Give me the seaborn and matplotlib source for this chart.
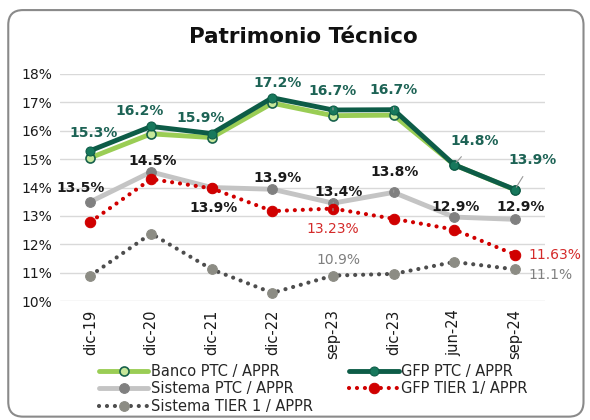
import numpy as np
import pandas as pd
import matplotlib
matplotlib.use("Agg")
import matplotlib.pyplot as plt
from matplotlib.patches import FancyBboxPatch
import seaborn as sns

periodos = ["dic-19", "dic-20", "dic-21", "dic-22", "sep-23", "dic-23", "jun-24", "sep-24"]
banco_ptc = [15.05, 15.89, 15.76, 16.97, 16.53, 16.55, 14.80, 13.92]
gfp_ptc = [15.30, 16.15, 15.90, 17.16, 16.73, 16.74, 14.80, 13.93]
sistema_ptc = [13.50, 14.55, 14.00, 13.94, 13.45, 13.83, 12.96, 12.88]
gfp_tier1 = [12.79, 14.30, 13.97, 13.17, 13.26, 12.90, 12.52, 11.64]
sistema_tier1 = [10.90, 12.38, 11.12, 10.29, 10.90, 10.96, 11.38, 11.12]

gfp_labels = ["15.3%", "16.2%", "15.9%", "17.2%", "16.7%", "16.7%", "14.8%", "13.9%"]
sistema_labels = ["13.5%", "14.5%", "13.9%", "13.9%", "13.4%", "13.8%", "12.9%", "12.9%"]

sns.set_style("white")
plt.rcParams["font.family"] = ["DejaVu Sans"]

x = np.arange(len(periodos))
df = pd.DataFrame({
    "x": x,
    "banco_ptc": banco_ptc,
    "gfp_ptc": gfp_ptc,
    "sistema_ptc": sistema_ptc,
    "gfp_tier1": gfp_tier1,
    "sistema_tier1": sistema_tier1,
})

fig = plt.figure(figsize=(5.9, 4.2), dpi=100)
ax = fig.add_axes([0.102, 0.283, 0.822, 0.541])

dots = (0, (0.01, 1.9))

sns.lineplot(data=df, x="x", y="sistema_tier1", ax=ax, color="#4d4d4d", lw=3,
             linestyle=dots, dash_capstyle="round", marker="o", markersize=7,
             markerfacecolor="#8c8c84", markeredgecolor="#8c8c84",
             label="Sistema TIER 1 / APPR", sort=False, zorder=2)
sns.lineplot(data=df, x="x", y="gfp_tier1", ax=ax, color="#d00000", lw=3,
             linestyle=dots, dash_capstyle="round", marker="o", markersize=7.5,
             markerfacecolor="#d00000", markeredgecolor="#d00000",
             label="GFP TIER 1/ APPR", sort=False, zorder=4)
sns.lineplot(data=df, x="x", y="sistema_ptc", ax=ax, color="#c4c4c4", lw=3.5,
             marker="o", markersize=7, markerfacecolor="#808080",
             markeredgecolor="#808080", label="Sistema PTC / APPR",
             sort=False, zorder=3)
sns.lineplot(data=df, x="x", y="banco_ptc", ax=ax, color="#9acd55", lw=3.5,
             marker="o", markersize=6.5, markerfacecolor="#c6e79a",
             markeredgecolor="#17614c", markeredgewidth=1.2,
             label="Banco PTC / APPR", sort=False, zorder=5)
sns.lineplot(data=df, x="x", y="gfp_ptc", ax=ax, color="#0d5c47", lw=3.5,
             marker="o", markersize=6.5, markerfacecolor="#17785c",
             markeredgecolor="#0d5c47", label="GFP PTC / APPR",
             sort=False, zorder=6)

# label offsets in points (dx, dy)
gfp_off = [(2, 13), (-8, 11), (-8, 11), (4, 11), (0, 14), (0, 14), (15, 17), (13, 21)]
gfp_lead = [False, False, False, False, True, True, True, True]
for i, (txt, (dx, dy), lead) in enumerate(zip(gfp_labels, gfp_off, gfp_lead)):
    ax.annotate(txt, (x[i], gfp_ptc[i]), xytext=(dx, dy), textcoords="offset points",
                ha="center", va="center", fontsize=10, color="#1d6355",
                fontweight="semibold", zorder=10,
                arrowprops=dict(arrowstyle="-", color="#999999", lw=0.8,
                                shrinkA=5, shrinkB=2) if lead else None)

sis_off = [(-7, 10), (1, 8), (1, -15), (4, 8), (4, 8), (1, 15), (1, 7), (4, 9)]
sis_lead = [False, False, False, False, True, True, False, False]
for i, (txt, (dx, dy), lead) in enumerate(zip(sistema_labels, sis_off, sis_lead)):
    ax.annotate(txt, (x[i], sistema_ptc[i]), xytext=(dx, dy), textcoords="offset points",
                ha="center", va="center", fontsize=10, color="#1a1a1a",
                fontweight="semibold", zorder=10,
                arrowprops=dict(arrowstyle="-", color="#999999", lw=0.8,
                                shrinkA=6, shrinkB=2) if lead else None)

ax.annotate("13.23%", (x[4], gfp_tier1[4]), xytext=(0, -15), textcoords="offset points",
            ha="center", va="center", fontsize=10, color="#d42a2a", zorder=10,
            arrowprops=dict(arrowstyle="-", color="#999999", lw=0.8, shrinkA=6, shrinkB=2))
ax.annotate("11.63%", (x[7], gfp_tier1[7]), xytext=(10, 0), textcoords="offset points",
            ha="left", va="center", fontsize=10, color="#d42a2a", zorder=10)
ax.annotate("10.9%", (x[4], sistema_tier1[4]), xytext=(4, 11), textcoords="offset points",
            ha="center", va="center", fontsize=10, color="#7f7f7f", zorder=10)
ax.annotate("11.1%", (x[7], sistema_tier1[7]), xytext=(10, -4), textcoords="offset points",
            ha="left", va="center", fontsize=10, color="#7f7f7f", zorder=10)

ax.set_xlim(-0.5, len(periodos) - 0.5)
ax.set_ylim(10, 18)
ax.set_yticks(np.arange(10, 19, 1))
ax.set_yticklabels([f"{v}%" for v in range(10, 19)], fontsize=10, color="#1a1a1a")
ax.set_xticks(x)
ax.set_xticklabels(periodos, rotation=90, fontsize=10.5, color="#1a1a1a")
ax.tick_params(axis="both", length=0, pad=6)
ax.set_xlabel("")
ax.set_ylabel("")
ax.grid(axis="y", color="#d9d9d9", lw=1)
ax.set_axisbelow(True)
sns.despine(ax=ax, left=True, bottom=True)

handles, labels = ax.get_legend_handles_labels()
order = ["Banco PTC / APPR", "Sistema PTC / APPR", "Sistema TIER 1 / APPR",
         "GFP PTC / APPR", "GFP TIER 1/ APPR"]
hmap = dict(zip(labels, handles))
ax.get_legend().remove()
fig.legend([hmap[k] for k in order], order, ncol=2, loc="upper left",
           bbox_to_anchor=(0.155, 0.15), frameon=False, fontsize=10.5,
           handlelength=3.4, handletextpad=0.15, columnspacing=2.5,
           labelspacing=0.15, borderpad=0, numpoints=1)

fig.text(0.515, 0.912, "Patrimonio Técnico", ha="center", va="center",
         fontsize=15.5, fontweight="semibold", color="#111111")

border = FancyBboxPatch((0.014, 0.008), 0.975, 0.968,
                        boxstyle="round,pad=0,rounding_size=0.025",
                        mutation_aspect=590 / 420, transform=fig.transFigure,
                        fill=False, edgecolor="#8a8a8a", lw=1.5)
fig.patches.append(border)

fig.savefig("out.png", dpi=100)
